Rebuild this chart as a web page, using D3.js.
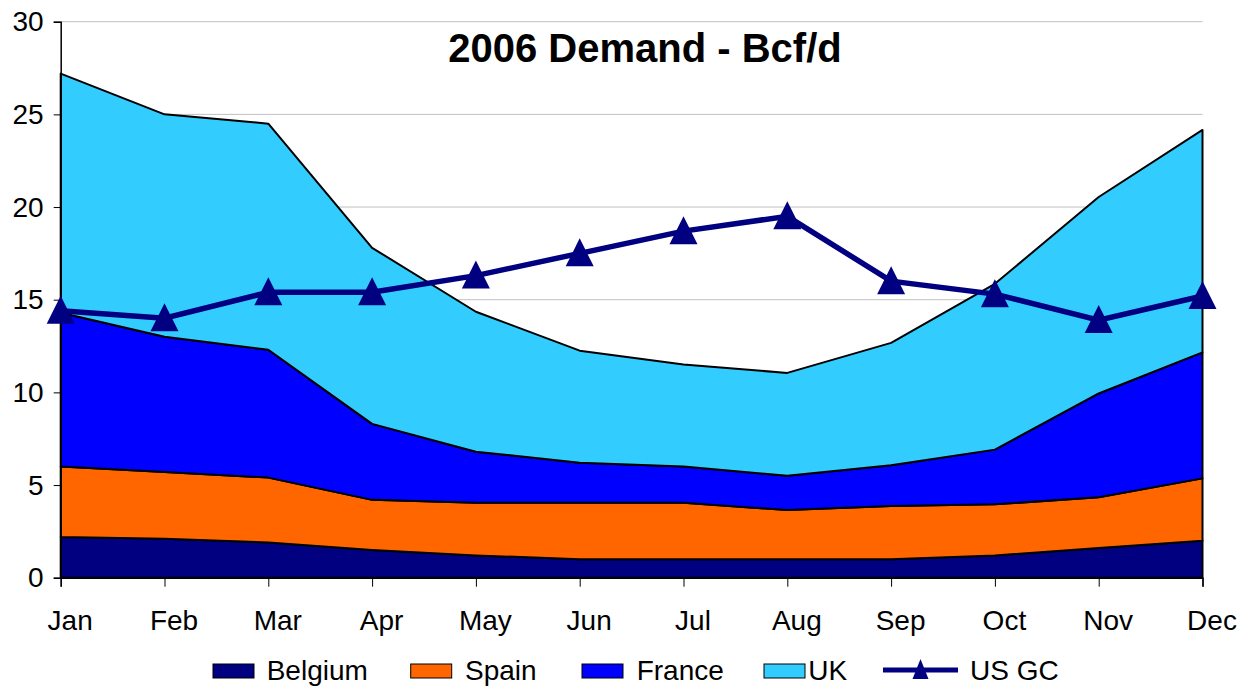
<!DOCTYPE html>
<html>
<head>
<meta charset="utf-8">
<script src="https://cdn.jsdelivr.net/npm/d3@7/dist/d3.min.js"></script>
<style>
  html, body { margin: 0; padding: 0; background: #fff; }
  svg { display: block; font-family: "Liberation Sans", Arial, sans-serif; }
</style>
</head>
<body>
<svg id="chart" width="1249" height="687"></svg>
<script>
// ---- Data ----
const months = ["Jan","Feb","Mar","Apr","May","Jun","Jul","Aug","Sep","Oct","Nov","Dec"];
const belgium = [2.2, 2.1, 1.9, 1.5, 1.2, 1.0, 1.0, 1.0, 1.0, 1.2, 1.6, 2.0];
const spain   = [3.8, 3.6, 3.5, 2.7, 2.85, 3.05, 3.05, 2.65, 2.87, 2.76, 2.74, 3.36];
const france  = [8.3, 7.3, 6.9, 4.1, 2.75, 2.15, 1.95, 1.85, 2.2, 2.95, 5.6, 6.8];
const uk      = [12.9, 12.0, 12.2, 9.5, 7.55, 6.05, 5.5, 5.55, 6.6, 8.95, 10.6, 12.0];
const usgc    = [14.4, 14.0, 15.4, 15.4, 16.3, 17.5, 18.7, 19.5, 16.0, 15.3, 13.9, 15.2];
const yTicks  = [0, 5, 10, 15, 20, 25, 30];
const seriesNames = ["Belgium", "Spain", "France", "UK"];
const lineName = "US GC";
const title = "2006 Demand - Bcf/d";

(function () {
// ---- Styles ----
const colors = { Belgium: "#000080", Spain: "#FF6600", France: "#0000FF", UK: "#33CCFF" };
const lineColor = "#000080";

const svg = d3.select("#chart");
const mLeft = 60.7, mRight = 1202.5, mTop = 21.7, mBottom = 577.7;

const x = d3.scalePoint().domain(months).range([mLeft, mRight]);
const y = d3.scaleLinear().domain([0, 30]).range([mBottom, mTop]);

const table = months.map((m, i) => ({
  month: m, Belgium: belgium[i], Spain: spain[i], France: france[i], UK: uk[i], usgc: usgc[i]
}));

// gridlines
svg.append("g")
  .selectAll("line")
  .data(yTicks.filter(t => t > 0))
  .join("line")
  .attr("x1", mLeft).attr("x2", mRight)
  .attr("y1", d => y(d)).attr("y2", d => y(d))
  .attr("stroke", "#c0c0c0").attr("stroke-width", 1);

// stacked areas
const stack = d3.stack().keys(seriesNames);
const layers = stack(table);
const area = d3.area()
  .x(d => x(d.data.month))
  .y0(d => y(d[0]))
  .y1(d => y(d[1]));
svg.append("g")
  .selectAll("path")
  .data(layers)
  .join("path")
  .attr("d", area)
  .attr("fill", d => colors[d.key])
  .attr("stroke", "#000")
  .attr("stroke-width", 2)
  .attr("stroke-linejoin", "round");

// axes
const yAxis = d3.axisLeft(y).tickValues(yTicks).tickSize(7).tickPadding(10);
const gy = svg.append("g").attr("transform", `translate(${mLeft},0)`).call(yAxis);
gy.select(".domain").attr("stroke", "#000").attr("stroke-width", 1.5);
gy.selectAll(".tick line").attr("stroke", "#000");
gy.selectAll("text").attr("font-size", 28).attr("fill", "#000")
  .attr("font-family", "Liberation Sans, Arial, sans-serif");

const xAxis = d3.axisBottom(x).tickSize(9).tickPadding(0);
const gx = svg.append("g").attr("transform", `translate(0,${mBottom})`).call(xAxis);
gx.select(".domain").attr("stroke", "#000").attr("stroke-width", 1.5);
gx.selectAll(".tick line").attr("stroke", "#000");
gx.selectAll("text").attr("font-size", 28).attr("fill", "#000")
  .attr("font-family", "Liberation Sans, Arial, sans-serif")
  .attr("y", 52).attr("dy", 0).attr("dx", 9);

// US GC line
const line = d3.line().x(d => x(d.month)).y(d => y(d.usgc));
svg.append("path")
  .datum(table)
  .attr("d", line)
  .attr("fill", "none")
  .attr("stroke", lineColor)
  .attr("stroke-width", 5.5)
  .attr("stroke-linejoin", "miter");

const tri = (cx, cy, hw, up, down) =>
  `M${cx},${cy - up}L${cx + hw},${cy + down}L${cx - hw},${cy + down}Z`;
svg.append("g")
  .selectAll("path")
  .data(table)
  .join("path")
  .attr("d", d => tri(x(d.month), y(d.usgc), 14, 15, 13))
  .attr("fill", lineColor);

// title
svg.append("text")
  .attr("x", 645).attr("y", 61.5)
  .attr("text-anchor", "middle")
  .attr("font-size", 40).attr("font-weight", "bold").attr("fill", "#000")
  .text(title);

// legend
const legendSwatchX = [213, 410.7, 582, 764];
const legendTextX = [266.7, 465, 636.7, 808.3];
const lg = svg.append("g");
seriesNames.forEach((name, i) => {
  lg.append("rect")
    .attr("x", legendSwatchX[i]).attr("y", 664)
    .attr("width", 41).attr("height", 14)
    .attr("fill", colors[name]).attr("stroke", "#000").attr("stroke-width", 1);
  lg.append("text")
    .attr("x", legendTextX[i]).attr("y", 680)
    .attr("font-size", 28).attr("fill", "#000")
    .text(name);
});
lg.append("line")
  .attr("x1", 883).attr("x2", 958).attr("y1", 670).attr("y2", 670)
  .attr("stroke", lineColor).attr("stroke-width", 5);
lg.append("path")
  .attr("d", tri(920.5, 670, 8, 11, 9))
  .attr("fill", lineColor);
lg.append("text")
  .attr("x", 970).attr("y", 680)
  .attr("font-size", 28).attr("fill", "#000")
  .text(lineName);
})();
</script>
</body>
</html>
